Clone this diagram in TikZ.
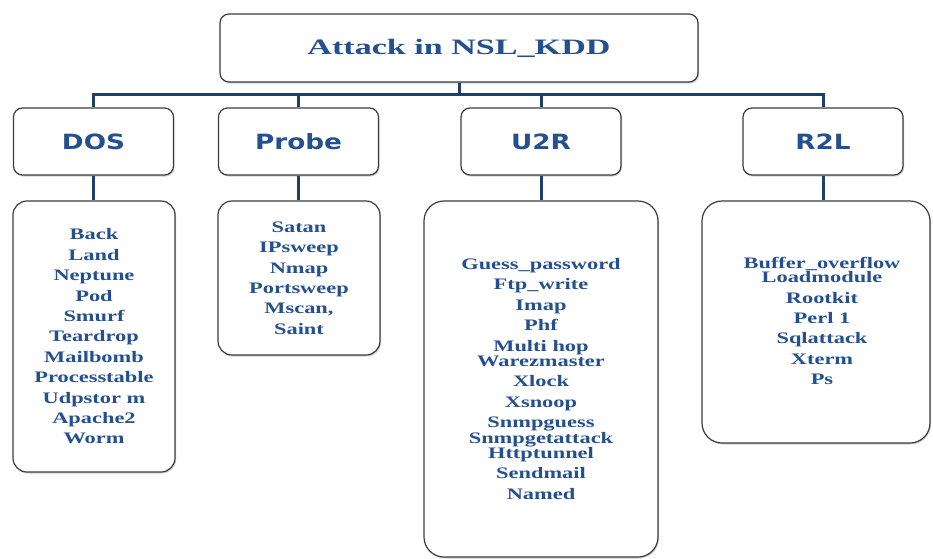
\documentclass[tikz,border=0pt]{standalone}
\usepackage{fontspec}
\setmainfont{Liberation Serif}
\newfontfamily\titlefont[FakeStretch=1.55]{Liberation Serif}
\newfontfamily\itemfont[FakeStretch=1.4]{Liberation Serif}
\newfontfamily\catfont[FakeStretch=1.25]{DejaVu Sans}
\usetikzlibrary{shadows}
\definecolor{txtblue}{HTML}{25508F}
\definecolor{linknavy}{HTML}{1F3F6B}
\definecolor{boxgray}{HTML}{3C3C3C}
\begin{document}
\begin{tikzpicture}[x=1pt,y=-1pt,
  box/.style={draw=boxgray, line width=1.2pt, fill=white, rounded corners=9pt, inner sep=0pt,
    drop shadow={opacity=0.18, shadow xshift=1pt, shadow yshift=-1.5pt, fill=black}},
  titlebox/.style={box, minimum width=478pt, minimum height=68pt,
    font=\titlefont\bfseries\fontsize{22}{26}\selectfont, text=txtblue},
  catbox/.style={box, minimum width=160pt, minimum height=67pt,
    font=\catfont\bfseries\fontsize{21}{25}\selectfont, text=txtblue},
  listfont/.style={align=center, font=\itemfont\bfseries\fontsize{16}{20.4}\selectfont, text=txtblue},
  listbox/.style={box, listfont, rounded corners=14pt},
  link/.style={draw=linknavy, line width=3pt}]
\useasboundingbox (0,0) rectangle (933,558);

\node[titlebox] (title) at (459,48) {Attack in NSL\_KDD};

\node[catbox] (dos)   at (93.5,141.5) {DOS};
\node[catbox] (probe) at (298.5,141.5) {Probe};
\node[catbox] (u2r)   at (541,141.5) {U2R};
\node[catbox] (r2l)   at (823,141.5) {R2L};

\node[listbox, minimum width=162pt, minimum height=271pt] (doslist) at (94,336.5)
  {Back\\Land\\Neptune\\Pod\\Smurf\\Teardrop\\Mailbomb\\Processtable\\Udpstor m\\Apache2\\Worm};
\node[listbox, minimum width=162pt, minimum height=154pt] (probelist) at (299,278)
  {Satan\\IPsweep\\Nmap\\Portsweep\\Mscan,\\Saint};
\node[listbox, rounded corners=20pt, minimum width=234pt, minimum height=356pt] (u2rlist) at (541,379)
  {Guess\_password\\Ftp\_write\\Imap\\Phf\\Multi hop\\[-5pt]Warezmaster\\Xlock\\Xsnoop\\Snmpguess\\[-5pt]Snmpgetattack\\[-5pt]Httptunnel\\Sendmail\\Named};
\node[box, rounded corners=20pt, minimum width=228pt, minimum height=242pt] (r2llist) at (816,322) {};
\node[listfont, inner sep=0pt] (r2ltext) at (822,321)
  {Buffer\_overflow\\[-6pt]Loadmodule\\Rootkit\\Perl 1\\Sqlattack\\Xterm\\Ps};

\coordinate (bus) at (459,94);
\draw[link] (title.south) -- (bus);
\draw[link] (dos.north) |- (bus) -| (r2l.north);
\draw[link] (probe.north) -- (probe.north |- bus);
\draw[link] (u2r.north) -- (u2r.north |- bus);
\draw[link] (dos.south) -- (dos.south |- doslist.north);
\draw[link] (probe.south) -- (probe.south |- probelist.north);
\draw[link] (u2r.south) -- (u2r.south |- u2rlist.north);
\draw[link] (r2l.south) -- (r2l.south |- r2llist.north);
\end{tikzpicture}
\end{document}
